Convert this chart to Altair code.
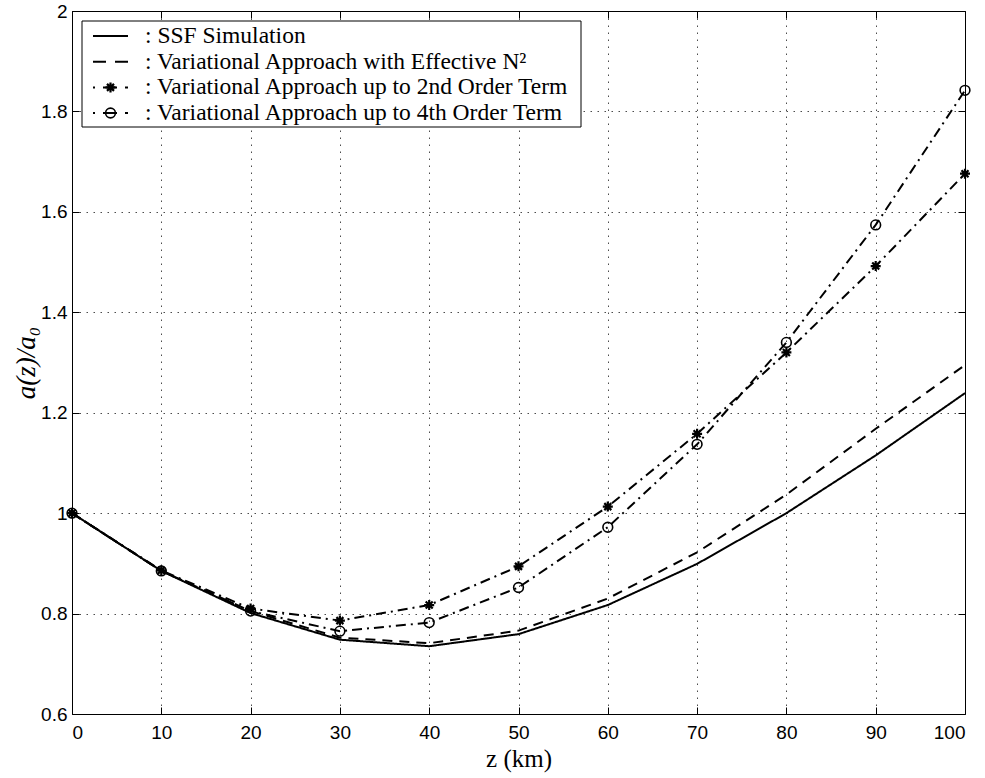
import altair as alt
import pandas as pd

# ---- data ----
z_km = [0, 10, 20, 30, 40, 50, 60, 70, 80, 90, 100]
ssf_sim = [1.000, 0.885, 0.801, 0.748, 0.735, 0.759, 0.817, 0.899, 1.000, 1.115, 1.239]
eff_n2 = [1.000, 0.885, 0.805, 0.752, 0.741, 0.766, 0.830, 0.922, 1.037, 1.168, 1.295]
second_order = [1.000, 0.886, 0.810, 0.786, 0.817, 0.894, 1.013, 1.158, 1.320, 1.492, 1.676]
fourth_order = [1.000, 0.885, 0.805, 0.765, 0.782, 0.852, 0.972, 1.137, 1.340, 1.574, 1.842]

series_names = [
    "SSF Simulation",
    "Variational Approach with Effective N²",
    "Variational Approach up to 2nd Order Term",
    "Variational Approach up to 4th Order Term",
]
x_ticks = [0, 10, 20, 30, 40, 50, 60, 70, 80, 90, 100]
y_ticks = [0.6, 0.8, 1.0, 1.2, 1.4, 1.6, 1.8, 2.0]

rows = []
for name, vals in zip(series_names, [ssf_sim, eff_n2, second_order, fourth_order]):
    for zz, v in zip(z_km, vals):
        rows.append({"series": name, "z": zz, "ratio": v})
df = pd.DataFrame(rows)

# ---- styles ----
W, H = 893, 703
SANS = "Liberation Sans"
SERIF = "Liberation Serif"
STAR = "M-1,0L1,0M0,-1L0,1M-0.7,-0.7L0.7,0.7M-0.7,0.7L0.7,-0.7"
dash_patterns = [[1, 0], [10, 7], [10, 5, 2, 5], [10, 5, 2, 5]]

xs = alt.Scale(domain=[0, 100], nice=False, zero=False)
ys = alt.Scale(domain=[0.6, 2.0], nice=False, zero=False)

main_x_axis = alt.Axis(
    orient="bottom", values=x_ticks, grid=True, gridDash=[1.5, 5.5], gridColor="black",
    gridOpacity=0.7, gridWidth=1, tickSize=0, domain=False, labelPadding=9,
    labelFont=SANS, labelFontSize=19, labelColor="black", format="d",
    title="z (km)", titleFont=SERIF, titleFontSize=25, titleFontWeight="normal",
    titleColor="black", titlePadding=4,
)
main_y_axis = alt.Axis(
    orient="left", values=y_ticks, grid=True, gridDash=[1.5, 5.5], gridColor="black",
    gridOpacity=0.7, gridWidth=1, tickSize=0, domain=False, labelPadding=5,
    labelFont=SANS, labelFontSize=19, labelColor="black", format="~g",
    title="a(z)/a₀", titleFont=SERIF, titleFontSize=27, titleFontWeight="normal",
    titleFontStyle="italic", titleColor="black", titlePadding=0,
)


def tick_axis(orient, vals):
    return alt.Axis(orient=orient, values=vals, offset=-7, tickSize=7, tickColor="black",
                    tickWidth=1, labels=False, domain=False, grid=False, title=None)


lines = alt.Chart(df).mark_line(color="black", strokeWidth=2).encode(
    x=alt.X("z:Q", scale=xs, axis=main_x_axis),
    y=alt.Y("ratio:Q", scale=ys, axis=main_y_axis),
    strokeDash=alt.StrokeDash("series:N", scale=alt.Scale(domain=series_names, range=dash_patterns),
                              legend=None),
    order=alt.Order("z:Q"),
)

stars = alt.Chart(df).transform_filter(
    alt.datum.series == series_names[2]
).mark_point(shape=STAR, size=100, filled=False, strokeWidth=2.2, color="black", opacity=1).encode(
    x=alt.X("z:Q", scale=xs, axis=tick_axis("bottom", x_ticks)),
    y=alt.Y("ratio:Q", scale=ys, axis=tick_axis("left", y_ticks)),
)

circles = alt.Chart(df).transform_filter(
    alt.datum.series == series_names[3]
).mark_point(shape="circle", size=95, filled=False, strokeWidth=1.6, color="black", opacity=1).encode(
    x=alt.X("z:Q", scale=xs, axis=tick_axis("top", x_ticks)),
    y=alt.Y("ratio:Q", scale=ys, axis=tick_axis("right", y_ticks)),
)

# ---- MATLAB-style legend box (layout in pixels inside the plot area) ----
LEG_X0, LEG_X1, LEG_Y0, LEG_Y1 = 10, 509, 10, 116
ROW_Y = [25, 50.7, 76.4, 102]
SAMPLE_X0, SAMPLE_X1, SAMPLE_MID, TEXT_X = 21, 56, 38.5, 73
legend_dashes = [[1, 0], [13, 9], [2, 8, 14, 8, 3], [2, 8, 14, 8, 3]]

one = pd.DataFrame({"k": [0]})
legend_layers = [
    alt.Chart(one).mark_rect(fill="white", stroke="black", strokeWidth=1).encode(
        x=alt.value(LEG_X0), x2=alt.value(LEG_X1), y=alt.value(LEG_Y0), y2=alt.value(LEG_Y1)
    )
]
for i, name in enumerate(series_names):
    legend_layers.append(
        alt.Chart(one).mark_rule(color="black", strokeWidth=2, strokeDash=legend_dashes[i]).encode(
            x=alt.value(SAMPLE_X0), x2=alt.value(SAMPLE_X1), y=alt.value(ROW_Y[i])
        )
    )
    legend_layers.append(
        alt.Chart(pd.DataFrame({"label": [": " + name]})).mark_text(
            align="left", baseline="middle", font=SERIF, fontSize=23.5, color="black"
        ).encode(x=alt.value(TEXT_X), y=alt.value(ROW_Y[i]), text="label:N")
    )
legend_layers.append(
    alt.Chart(one).mark_point(shape=STAR, size=100, filled=False, strokeWidth=2.2,
                              color="black", opacity=1).encode(
        x=alt.value(SAMPLE_MID), y=alt.value(ROW_Y[2]))
)
legend_layers.append(
    alt.Chart(one).mark_point(shape="circle", size=95, filled=False, strokeWidth=1.6,
                              color="black", opacity=1).encode(
        x=alt.value(SAMPLE_MID), y=alt.value(ROW_Y[3]))
)

chart = alt.layer(lines, stars, circles, *legend_layers).resolve_axis(
    x="independent", y="independent"
).properties(
    width=W, height=H,
    padding={"left": 72, "top": 11, "right": 20, "bottom": 64},
    autosize=alt.AutoSizeParams(type="none"),
    background="white",
).configure_view(stroke="black", strokeWidth=1)

chart.save("out.html", embed_options={"renderer": "svg", "actions": False})
